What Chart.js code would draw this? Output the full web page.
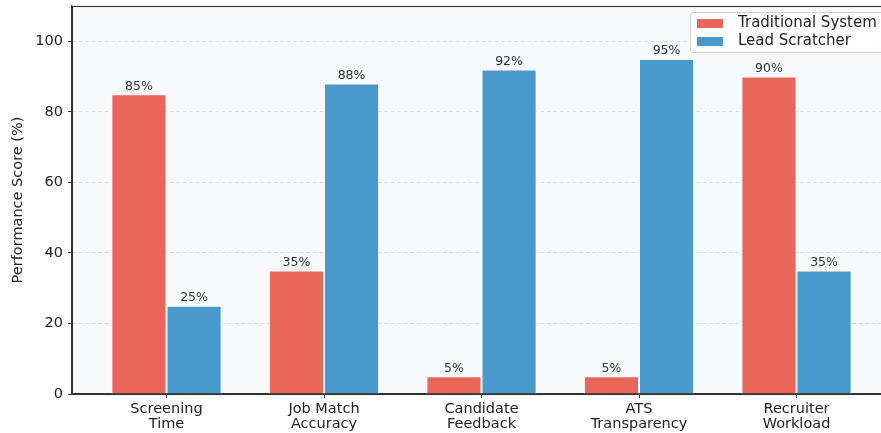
<!DOCTYPE html>
<html>
<head>
<meta charset="utf-8">
<script src="https://cdn.jsdelivr.net/npm/chart.js@4.4.1/dist/chart.umd.min.js"></script>
<style>
    html, body { margin: 0; padding: 0; background: #fff; overflow: hidden; }
    #wrap { width: 910px; height: 433px; }
</style>
</head>
<body>
<div id="wrap"><canvas id="scoreChart" width="910" height="433"></canvas></div>
<script>
const categories = [
    ["Screening", "Time"],
    ["Job Match", "Accuracy"],
    ["Candidate", "Feedback"],
    ["ATS", "Transparency"],
    ["Recruiter", "Workload"],
];
const traditionalScores = [85, 35, 5, 5, 90];
const leadScratcherScores = [25, 88, 92, 95, 35];
const yTicks = [0, 20, 40, 60, 80, 100];

const FONT = "'DejaVu Sans', sans-serif";

// panel background, frame, value labels and the legend box
const decorations = {
    id: "decorations",
    beforeDraw(chart) {
        const { ctx, chartArea: a } = chart;
        ctx.save();
        ctx.fillStyle = "#f8f9fa";
        ctx.fillRect(a.left, a.top, a.right - a.left, a.bottom - a.top);
        ctx.restore();
    },
    afterDatasetsDraw(chart) {
        const { ctx, chartArea: a } = chart;
        ctx.save();
        ctx.strokeStyle = "#333";
        ctx.lineWidth = 1.1;
        ctx.strokeRect(a.left + 0.5, a.top + 0.5, a.right - a.left, a.bottom - a.top);

        ctx.font = "12.5px " + FONT;
        ctx.fillStyle = "#333";
        ctx.textAlign = "center";
        ctx.textBaseline = "bottom";
        chart.data.datasets.forEach((ds, i) => {
            chart.getDatasetMeta(i).data.forEach((bar, j) => {
                ctx.fillText(ds.data[j].y + "%", bar.x, bar.y - 1.5);
            });
        });

        // legend
        const lx = a.left + 618, ly = a.top + 6;
        ctx.fillStyle = "rgba(255,255,255,0.85)";
        ctx.strokeStyle = "#d0d0d0";
        ctx.lineWidth = 1;
        ctx.beginPath();
        ctx.roundRect(lx + 0.5, ly + 0.5, 196, 40, 3);
        ctx.fill();
        ctx.stroke();
        ctx.font = "15px " + FONT;
        ctx.textAlign = "left";
        ctx.textBaseline = "middle";
        chart.data.datasets.forEach((ds, i) => {
            const y = ly + 11 + i * 18;
            ctx.fillStyle = ds.backgroundColor;
            ctx.fillRect(lx + 7, y - 4, 26, 9);
            ctx.fillStyle = "#222";
            ctx.fillText(ds.label, lx + 48, y);
        });
        ctx.restore();
    },
};

new Chart(document.getElementById("scoreChart"), {
    type: "bar",
    data: {
        datasets: [
            {
                label: "Traditional System",
                data: traditionalScores.map((v, i) => ({ x: i, y: v })),
                backgroundColor: "#e9665a",
                borderColor: "#ffffff",
                borderWidth: 1,
            },
            {
                label: "Lead Scratcher",
                data: leadScratcherScores.map((v, i) => ({ x: i, y: v })),
                backgroundColor: "#4a99cc",
                borderColor: "#ffffff",
                borderWidth: 1,
            },
        ],
    },
    options: {
        responsive: false,
        animation: false,
        categoryPercentage: 0.7,
        barPercentage: 1.0,
        layout: { padding: { top: 6, right: 19, bottom: 0, left: 0 } },
        plugins: {
            legend: { display: false },
            tooltip: { enabled: false },
        },
        scales: {
            x: {
                type: "linear",
                min: -0.6,
                max: 4.6,
                offset: false,
                afterBuildTicks: (scale) => {
                    scale.ticks = categories.map((c, i) => ({ value: i }));
                },
                afterFit: (scale) => {
                    scale.height = 39;
                    scale.paddingLeft = 0;
                    scale.paddingRight = 0;
                },
                ticks: {
                    color: "#222",
                    font: { family: FONT, size: 14.5, lineHeight: 1.0 },
                    padding: 4,
                    maxRotation: 0,
                    autoSkip: false,
                    callback: (value) => categories[value],
                },
                grid: {
                    offset: false,
                    drawOnChartArea: false,
                    drawTicks: true,
                    tickLength: 4,
                    tickColor: "#333",
                },
                border: { display: true, color: "#333", width: 1.2 },
            },
            y: {
                min: 0,
                max: 110,
                afterBuildTicks: (scale) => {
                    scale.ticks = yTicks.map((v) => ({ value: v }));
                },
                afterFit: (scale) => {
                    scale.width = 72;
                    scale.paddingTop = 0;
                    scale.paddingBottom = 0;
                },
                ticks: {
                    color: "#222",
                    font: { family: FONT, size: 14.5 },
                    padding: 5,
                },
                title: {
                    display: true,
                    text: "Performance Score (%)",
                    color: "#222",
                    font: { family: FONT, size: 14.5 },
                    padding: { top: 10, bottom: 2 },
                },
                grid: {
                    color: "#dcdee2",
                    tickColor: "#333",
                    tickLength: 4,
                    lineWidth: 1,
                },
                border: { display: true, color: "#333", width: 1.2, dash: [4, 2.5] },
            },
        },
    },
    plugins: [decorations],
});
</script>
</body>
</html>
